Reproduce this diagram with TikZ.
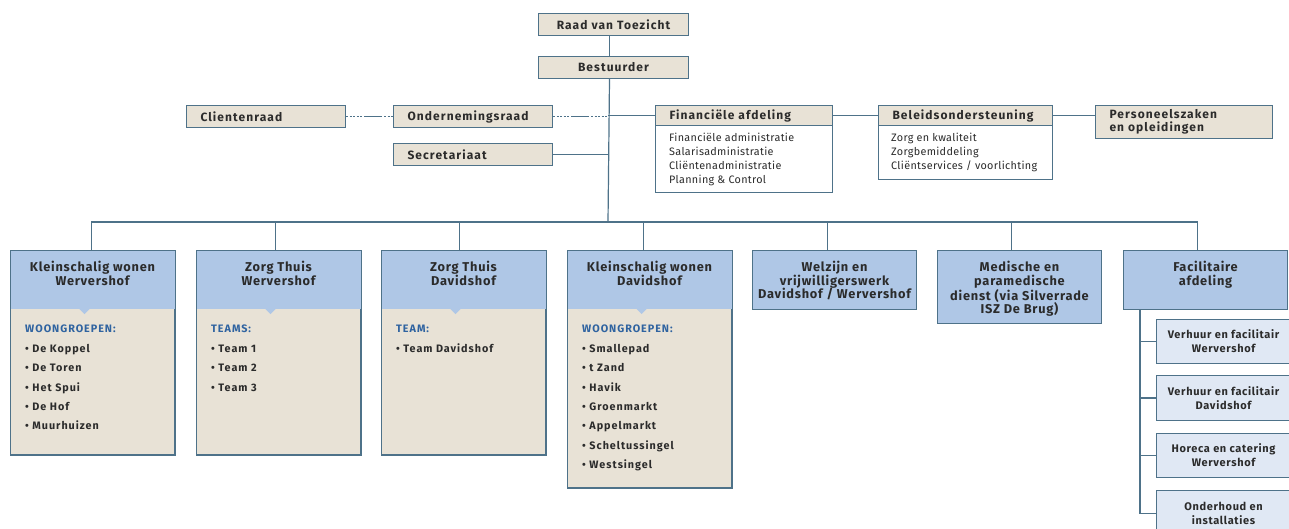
\documentclass[tikz,border=0pt]{standalone}
\usepackage{fontspec}
\setmainfont{Fira Sans}
\newfontfamily\hdfont[LetterSpace=9]{Fira Sans}
\newfontfamily\bhfont[LetterSpace=6]{Fira Sans}
\newfontfamily\rgfont[LetterSpace=3]{Fira Sans}
\usetikzlibrary{calc}
\definecolor{beige}{HTML}{E8E2D6}
\definecolor{hblue}{HTML}{AFC7E6}
\definecolor{sblue}{HTML}{E0E8F4}
\definecolor{edge}{HTML}{4E7289}
\definecolor{txt}{HTML}{2B2B2B}
\definecolor{ttl}{HTML}{2F63A0}
\newcommand{\paintheader}[1]{%
  \fill[hblue] (#1.north west) rectangle ($(#1.north east)+(0,59)$);
  \fill[hblue] ($(#1.north)+(-14,58)$) -- ++(12,0) -- ++(-6,6) -- cycle;
  \draw[draw=edge, line width=1pt] (#1.north west) rectangle (#1.south east);}
\begin{document}
\begin{tikzpicture}[x=1pt,y=-1pt,
  conn/.style={draw=edge, line width=1.2pt},
  dashconn/.style={draw=edge, line width=1.3pt, dash pattern=on 18pt off 2pt on 2pt off 1.5pt on 2pt off 1.5pt on 2pt off 1.5pt on 2pt off 1.5pt on 2pt off 2pt, dash phase=20pt},
  plate/.style={draw=edge, line width=1pt, fill=beige, anchor=north west, inner xsep=14pt, inner ysep=0pt, text=txt, align=left, font=\hdfont\bfseries\fontsize{12}{13.5}\selectfont},
  plainbody/.style={draw=edge, line width=1pt, fill=white, anchor=north west, inner sep=0pt},
  bodytext/.style={anchor=north west, inner sep=0pt, align=left, text=txt, font=\rgfont\fontsize{10.8}{14}\selectfont},
  shell/.style={draw=edge, line width=1pt, fill=beige, anchor=north west, inner sep=0pt, minimum width=164pt},
  bluebox/.style={draw=edge, line width=1pt, fill=hblue, anchor=north west, inner sep=0pt, minimum width=164pt},
  htext/.style={anchor=north, inner sep=0pt, align=center, text=txt, font=\bhfont\bfseries\fontsize{12.8}{13.6}\selectfont},
  btext/.style={anchor=north west, inner sep=0pt, align=left, text=txt, font=\hdfont\bfseries\fontsize{10.8}{19.4}\selectfont},
  sbox/.style={draw=edge, line width=1pt, fill=sblue, anchor=north west, inner sep=0pt, minimum width=134pt, align=center, text=txt, font=\bhfont\bfseries\fontsize{11}{14}\selectfont}
]
\clip (0,0) rectangle (1289,528);
\fill[white] (0,0) rectangle (1289,528);

% top management
\node[plate, text width=122pt, align=center, minimum height=22pt] (raad) at (538,13) {Raad van Toezicht};
\node[plate, text width=122pt, align=center, minimum height=22pt] (best) at (538,56) {Bestuurder};
\node[plate, text width=131pt, minimum height=22pt] (cr) at (186,105) {Clientenraad};
\node[plate, text width=131pt, minimum height=22pt] (or) at (393,105) {Ondernemingsraad};
\node[plate, text width=131pt, minimum height=22pt] (sec) at (393,143) {Secretariaat};

\node[plainbody, minimum width=177pt, minimum height=67pt] (finb) at (655,125) {};
\node[bodytext] (fint) at (669,133) {Financiële administratie\\Salarisadministratie\\Cliëntenadministratie\\Planning \& Control};
\node[plate, text width=149pt, minimum height=20pt] (fin) at (655,105) {Financiële afdeling};
\node[plainbody, minimum width=174pt, minimum height=54pt] (belb) at (878,125) {};
\node[bodytext] (belt) at (891,133) {Zorg en kwaliteit\\Zorgbemiddeling\\Cliëntservices / voorlichting};
\node[plate, text width=146pt, minimum height=20pt] (bel) at (878,105) {Beleidsondersteuning};
\node[plate, text width=149pt, minimum height=33pt] (pers) at (1095,105) {Personeelszaken\\en opleidingen};

\coordinate (bus) at (608,222);

% connectors top
\draw[conn] ([xshift=-4pt]raad.south) -- ([xshift=-4pt]best.north);
\draw[conn] ([xshift=-4pt]best.south) -- (bus);
\draw[dashconn] (cr.east) -- (or.west);
\draw[dashconn] (or.east) -- (or.east -| bus);
\draw[conn] (sec.east) -- (sec.east -| bus);
\draw[conn] (fin.west -| bus) -- (fin.west);
\draw[conn] (fin.east) -- (bel.west);
\draw[conn] (bel.east) -- (bel.east -| pers.west);

% bottom departments
\node[shell, minimum height=204pt] (b1) at (10,250) {};
\node[shell, minimum height=204pt] (b2) at (196,250) {};
\node[shell, minimum height=204pt] (b3) at (381,250) {};
\node[shell, minimum height=237pt] (b4) at (567,250) {};
\paintheader{b1}\paintheader{b2}\paintheader{b3}\paintheader{b4}
\node[bluebox, minimum height=59pt] (b5) at (752,250) {};
\node[bluebox, minimum height=73pt] (b6) at (937,250) {};
\node[bluebox, minimum height=59pt] (b7) at (1123,250) {};

\node[htext] (h1) at ($(b1.north)+(0,11)$) {Kleinschalig wonen\\Wervershof};
\node[htext] (h2) at ($(b2.north)+(0,11)$) {Zorg Thuis\\Wervershof};
\node[htext] (h3) at ($(b3.north)+(0,11)$) {Zorg Thuis\\Davidshof};
\node[htext] (h4) at ($(b4.north)+(0,11)$) {Kleinschalig wonen\\Davidshof};
\node[htext] (h5) at ($(b5.north)+(0,11)$) {Welzijn en\\vrijwilligerswerk\\Davidshof / Wervershof};
\node[htext] (h6) at ($(b6.north)+(0,11)$) {Medische en\\paramedische\\dienst (via Silverrade\\ISZ De Brug)};
\node[htext] (h7) at ($(b7.north)+(0,11)$) {Facilitaire\\afdeling};

\node[btext] (l1) at ($(b1.north west)+(15,75)$) {\textcolor{ttl}{WOONGROEPEN:}\\• De Koppel\\• De Toren\\• Het Spui\\• De Hof\\• Muurhuizen};
\node[btext] (l2) at ($(b2.north west)+(15,75)$) {\textcolor{ttl}{TEAMS:}\\• Team 1\\• Team 2\\• Team 3};
\node[btext] (l3) at ($(b3.north west)+(15,75)$) {\textcolor{ttl}{TEAM:}\\• Team Davidshof};
\node[btext] (l4) at ($(b4.north west)+(15,75)$) {\textcolor{ttl}{WOONGROEPEN:}\\• Smallepad\\• t Zand\\• Havik\\• Groenmarkt\\• Appelmarkt\\• Scheltussingel\\• Westsingel};

% bus and drops
\draw[conn] ([xshift=-1pt]b1.north) |- (bus) -| ([xshift=-8pt]b7.north);
\draw[conn] ([xshift=-3pt]b2.north) -- ([xshift=-3pt]b2.north |- bus);
\draw[conn] ([xshift=-4pt]b3.north) -- ([xshift=-4pt]b3.north |- bus);
\draw[conn] ([xshift=-6pt]b4.north) -- ([xshift=-6pt]b4.north |- bus);
\draw[conn] ([xshift=-7pt]b5.north) -- ([xshift=-7pt]b5.north |- bus);
\draw[conn] ([xshift=-8pt]b6.north) -- ([xshift=-8pt]b6.north |- bus);

% facilitaire sub units
\node[sbox, minimum height=44pt] (s1) at (1156,319) {Verhuur en facilitair\\Wervershof};
\node[sbox, minimum height=45pt] (s2) at (1156,375) {Verhuur en facilitair\\Davidshof};
\node[sbox, minimum height=44pt] (s3) at (1156,433) {Horeca en catering\\Wervershof};
\node[sbox, minimum height=46pt] (s4) at (1156,490) {Onderhoud en\\installaties};
\coordinate (fv) at (1140,309);
\draw[conn] (fv) |- (s4.west);
\draw[conn] (fv |- s1.west) -- (s1.west);
\draw[conn] (fv |- s2.west) -- (s2.west);
\draw[conn] (fv |- s3.west) -- (s3.west);
\end{tikzpicture}
\end{document}
